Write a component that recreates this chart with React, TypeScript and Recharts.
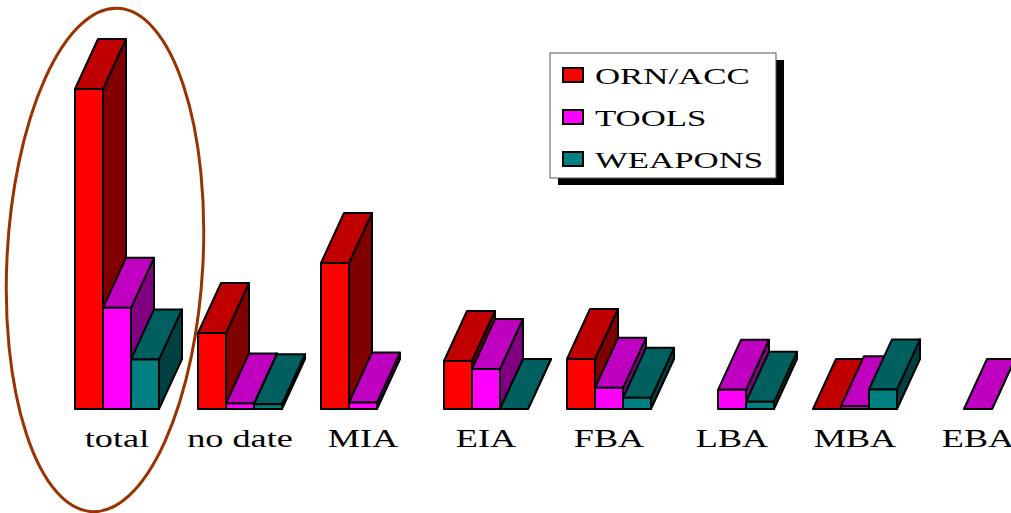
import React from 'react';
import { BarChart, Bar, XAxis, YAxis, Customized } from 'recharts';

// Periods along the horizontal axis
const categories = ['total', 'no date', 'MIA', 'EIA', 'FBA', 'LBA', 'MBA', 'EBA'];

// Counts per period for each find group (null = no bar)
const ornAcc: (number | null)[] = [80, 19, 36.5, 12, 12.5, null, 0, null];
const tools: (number | null)[] = [25.3, 1.4, 1.6, 10, 5.3, 4.8, 0.7, 0];
const weapons: (number | null)[] = [12.4, 1.2, null, 0, 2.8, 1.8, 4.9, null];

const seriesNames = ['ORN/ACC', 'TOOLS', 'WEAPONS'];
const seriesKeys = ['orn', 'tools', 'weapons'];

// front / top / side shades for the extruded bars
const seriesShades = [
  { front: '#FF0000', top: '#C00000', side: '#800000' },
  { front: '#FF00FF', top: '#C000C0', side: '#800080' },
  { front: '#008080', top: '#006060', side: '#004040' },
];

const data = categories.map((name, i) => ({
  name,
  orn: ornAcc[i],
  tools: tools[i],
  weapons: weapons[i],
}));

const DEPTH_X = 23;
const DEPTH_Y = 50;
const SERIF = 'Liberation Serif';
const STRETCH = 1.45;

const makeBox = (seriesIndex: number) => (props: any) => {
  const { x, y, width, height, payload } = props;
  const key = seriesKeys[seriesIndex];
  if (payload == null || payload[key] == null) return <g />;
  const c = seriesShades[seriesIndex];
  const h = Math.max(0, height);
  const top = y + height - h;
  const x2 = x + width;
  const bottom = top + h;
  const topFace = `${x},${top} ${x2},${top} ${x2 + DEPTH_X},${top - DEPTH_Y} ${x + DEPTH_X},${top - DEPTH_Y}`;
  const sideFace = `${x2},${top} ${x2 + DEPTH_X},${top - DEPTH_Y} ${x2 + DEPTH_X},${bottom - DEPTH_Y} ${x2},${bottom}`;
  return (
    <g stroke="#000" strokeWidth={2} strokeLinejoin="round">
      <polygon points={sideFace} fill={c.side} />
      <polygon points={topFace} fill={c.top} />
      {h > 0 && <rect x={x} y={top} width={width} height={h} fill={c.front} />}
    </g>
  );
};

const CategoryTick = (props: any) => {
  const { x, payload } = props;
  return (
    <text
      transform={`translate(${x},446.5) scale(${STRETCH},1)`}
      textAnchor="middle"
      style={{ fontFamily: SERIF, fontSize: 25 }}
      fill="#000"
    >
      {payload.value}
    </text>
  );
};

// Legend box with drop shadow, plus the highlight ring around "total"
const Overlay = () => {
  const bx = 550;
  const by = 53;
  const bw = 226;
  const bh = 125;
  return (
    <g>
      <ellipse
        cx={105}
        cy={260}
        rx={98}
        ry={252}
        transform="rotate(3,105,260)"
        fill="none"
        stroke="#993300"
        strokeWidth={3}
      />
      <rect x={bx + 8} y={by + 7} width={bw} height={bh} fill="#000" />
      <rect x={bx} y={by} width={bw} height={bh} fill="#fff" stroke="#555" strokeWidth={1} />
      {seriesNames.map((name, i) => (
        <g key={name}>
          <rect
            x={563}
            y={68 + i * 42}
            width={20}
            height={14}
            fill={seriesShades[i].front}
            stroke="#000"
            strokeWidth={2}
          />
          <text
            transform={`translate(595,${83.5 + i * 42}) scale(${STRETCH},1)`}
            style={{ fontFamily: SERIF, fontSize: 24 }}
            fill="#000"
          >
            {name}
          </text>
        </g>
      ))}
    </g>
  );
};

export default function App() {
  return (
    <div
      style={{
        position: 'fixed',
        left: 0,
        top: 0,
        width: 1011,
        height: 513,
        overflow: 'hidden',
        background: '#fff',
      }}
    >
      <BarChart
        width={1100}
        height={513}
        data={data}
        margin={{ top: 9, right: 60.5, bottom: 74, left: 55.5 }}
        barCategoryGap={19.5}
        barGap={0}
      >
        <XAxis
          dataKey="name"
          axisLine={false}
          tickLine={false}
          tick={<CategoryTick />}
          interval={0}
          height={30}
        />
        <YAxis hide domain={[0, 100]} />
        {seriesKeys.map((k, i) => (
          <Bar
            key={k}
            dataKey={k}
            name={seriesNames[i]}
            fill={seriesShades[i].front}
            shape={makeBox(i)}
            isAnimationActive={false}
          />
        ))}
        <Customized component={<Overlay />} />
      </BarChart>
    </div>
  );
}
